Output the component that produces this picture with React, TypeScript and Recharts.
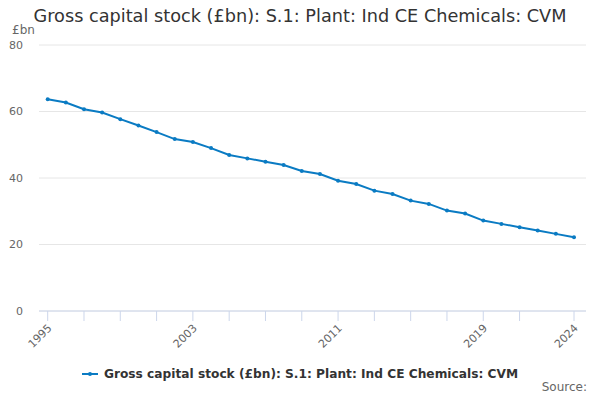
import { LineChart, Line, XAxis, YAxis, CartesianGrid } from 'recharts';

const years = [
  1995, 1996, 1997, 1998, 1999, 2000, 2001, 2002, 2003, 2004,
  2005, 2006, 2007, 2008, 2009, 2010, 2011, 2012, 2013, 2014,
  2015, 2016, 2017, 2018, 2019, 2020, 2021, 2022, 2023, 2024,
];
const stock = [
  63.7, 62.7, 60.7, 59.7, 57.7, 55.8, 53.8, 51.7, 50.8, 49.0,
  46.9, 45.9, 44.9, 43.9, 42.1, 41.2, 39.2, 38.2, 36.2, 35.2,
  33.2, 32.2, 30.2, 29.3, 27.2, 26.2, 25.2, 24.2, 23.2, 22.2,
];
const xTicks = [1995, 1997, 1999, 2001, 2003, 2005, 2007, 2009, 2011, 2013, 2015, 2017, 2019, 2021, 2024];
const xLabels = [1995, 2003, 2011, 2019, 2024];
const yTicks = [0, 20, 40, 60, 80];

const title = 'Gross capital stock (£bn): S.1: Plant: Ind CE Chemicals: CVM';
const seriesName = 'Gross capital stock (£bn): S.1: Plant: Ind CE Chemicals: CVM';

const data = years.map((year, i) => ({ year, value: stock[i] }));

const FONT = '"DejaVu Sans", sans-serif';
const BLUE = '#0a7bc3';

function YearTick({ x, y, payload }: any) {
  if (!xLabels.includes(payload.value)) return null;
  return (
    <g transform={`translate(${x + 2},${y + 5})`}>
      <text transform="rotate(-45)" textAnchor="end" fill="#666" fontSize={11} fontFamily={FONT} dy="0.35em">
        {payload.value}
      </text>
    </g>
  );
}

export default function App() {
  return (
    <div style={{ position: 'absolute', left: 0, top: 0, width: 600, height: 400, background: '#fff', fontFamily: FONT }}>
      <div style={{ position: 'absolute', top: 6, left: 0, width: 600, textAlign: 'center', fontSize: 17.7, color: '#333' }}>
        {title}
      </div>
      <div style={{ position: 'absolute', top: 23, left: 12, fontSize: 12, color: '#666' }}>£bn</div>
      <LineChart width={600} height={400} data={data} margin={{ top: 45, right: 14, bottom: 0, left: 0 }}>
        <CartesianGrid vertical={false} stroke="#e6e6e6" />
        <XAxis
          dataKey="year"
          type="number"
          domain={[1995, 2024]}
          ticks={xTicks}
          interval={0}
          padding={{ left: 8.7, right: 12 }}
          height={89}
          tickSize={10}
          tickMargin={0}
          axisLine={{ stroke: '#ccd6eb' }}
          tickLine={{ stroke: '#ccd6eb' }}
          tick={<YearTick />}
        />
        <YAxis
          domain={[0, 80]}
          ticks={yTicks}
          width={39}
          tickSize={0}
          tickMargin={16}
          axisLine={false}
          tickLine={false}
          tick={{ fill: '#666', fontSize: 11, fontFamily: FONT }}
        />
        <Line
          dataKey="value"
          stroke={BLUE}
          strokeWidth={2}
          dot={{ r: 2, fill: BLUE, stroke: BLUE, strokeWidth: 0 }}
          isAnimationActive={false}
          name={seriesName}
        />
      </LineChart>
      <div style={{ position: 'absolute', top: 367, left: 0, width: 600, display: 'flex', justifyContent: 'center', alignItems: 'center' }}>
        <svg width={16} height={10} style={{ marginRight: 6 }}>
          <line x1={0} y1={5} x2={16} y2={5} stroke={BLUE} strokeWidth={2} />
          <circle cx={8} cy={5} r={2} fill={BLUE} />
        </svg>
        <span style={{ fontSize: 12.2, fontWeight: 'bold', color: '#333' }}>{seriesName}</span>
      </div>
      <div style={{ position: 'absolute', top: 380, right: 13, fontSize: 12, color: '#666' }}>Source:</div>
    </div>
  );
}
